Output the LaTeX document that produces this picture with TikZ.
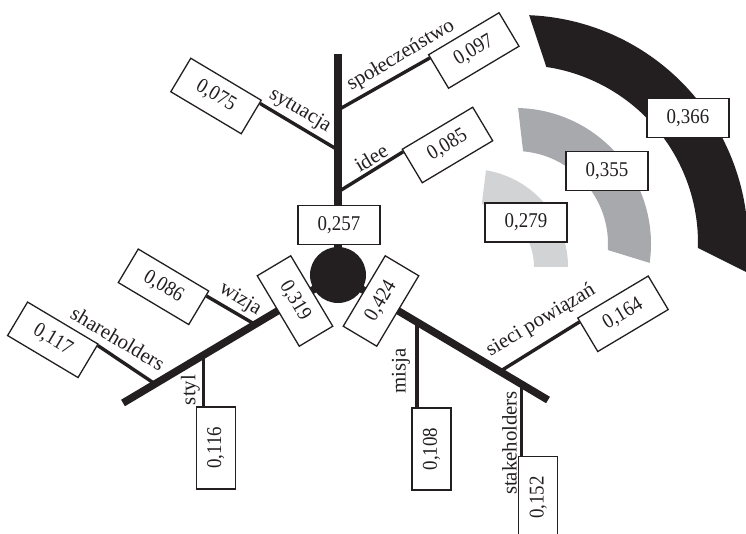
\documentclass[tikz,border=0pt]{standalone}
\usepackage{fontspec}
\setmainfont{Liberation Serif}
\newfontfamily\numfont[FakeStretch=0.9]{Liberation Serif}
\usetikzlibrary{calc}
\definecolor{darkc}{HTML}{231F20}
\definecolor{midc}{HTML}{A7A9AC}
\definecolor{lightc}{HTML}{D1D3D4}
\tikzset{
  valbox/.style={draw=darkc, line width=1.3pt, fill=white, minimum width=82pt, minimum height=39pt, inner sep=0pt, font=\numfont\fontsize{21}{24}\selectfont, text=darkc},
  lbl/.style={inner sep=0pt, font=\fontsize{20.8}{24}\selectfont, text=darkc},
  axisline/.style={draw=darkc, line width=7.5pt},
  branch/.style={draw=darkc, line width=3.4pt},
}
\begin{document}
\begin{tikzpicture}[x=1pt, y=-1pt]
\useasboundingbox (0,0) rectangle (746,534);
% arcs
\fill[darkc] plot[domain=87.7:-7.3, samples=80] ({520+228*cos(\x)},{243-228*sin(\x)})
  -- plot[domain=-1.6:81.5, samples=80] ({520+178*cos(\x)},{243-178*sin(\x)}) -- cycle;
\fill[midc] plot[domain=88.7:-8, samples=60] ({515+136*cos(\x)},{244-136*sin(\x)})
  -- plot[domain=-3.7:85, samples=60] ({515+93*cos(\x)},{244-93*sin(\x)}) -- cycle;
\fill[lightc] plot[domain=80.6:0, samples=50] ({470+98*cos(\x)},{267-98*sin(\x)})
  -- plot[domain=0:79.4, samples=50] ({470+64*cos(\x)},{267-64*sin(\x)}) -- cycle;
\node[valbox] (b366) at (688,118) {0,366};
\node[valbox] (b355) at (607,171) {0,355};
\node[valbox] (b279) at (526,222.5) {0,279};

% axis points
\coordinate (C) at (338,275);
\coordinate (T) at (338,54);
\coordinate (L) at (123,403);
\coordinate (R) at (548,400);
\coordinate (jspo) at (338,110);
\coordinate (jsyt) at (338,150);
\coordinate (jide) at (338,192);
\coordinate (jwiz) at (255,324.4);
\coordinate (jsha) at (155,383.9);
\coordinate (jsty) at (203.3,355.1);
\coordinate (jmis) at (417,322);
\coordinate (jsie) at (500,371.4);
\coordinate (jsta) at (521.7,384.3);

% value boxes of branches
\node[valbox, rotate=-30.8] (b075) at (216,96) {0,075};
\node[valbox, rotate=30.8] (b097) at (473.8,50.5) {0,097};
\node[valbox, rotate=30.8] (b085) at (447.5,145) {0,085};
\node[valbox, rotate=-30.8] (b086) at (163.5,286.8) {0,086};
\node[valbox, rotate=-30.8] (b117) at (52.8,339.8) {0,117};
\node[valbox, rotate=30.8] (b164) at (623,313.8) {0,164};
\node[valbox, rotate=90] (b116) at (215.8,448) {0,116};
\node[valbox, rotate=90] (b108) at (431.5,449) {0,108};
\node[valbox, rotate=90] (b152) at (538.3,497.7) {0,152};

% main axes
\draw[axisline] (T) -- (C);
\draw[axisline] (C) -- (L);
\draw[axisline] (C) -- (R);

% branches
\draw[branch] (jsyt) -- ($(b075.north east)!0.1!(b075.south east)$);
\draw[branch] (jspo) -- ($(b097.north west)!0.1!(b097.south west)$);
\draw[branch] (jide) -- ($(b085.north west)!0.08!(b085.south west)$);
\draw[branch] (jwiz) -- ($(b086.north east)!0.15!(b086.south east)$);
\draw[branch] (jsha) -- ($(b117.north east)!0.05!(b117.south east)$);
\draw[branch] (jsie) -- ($(b164.north west)!0.12!(b164.south west)$);
\draw[branch] (jsty) -- (jsty |- b116.east);
\draw[branch] (jmis) -- (jmis |- b108.east);
\draw[branch] (jsta) -- (jsta |- b152.east);

% center
\node[circle, fill=darkc, minimum size=56pt, inner sep=0pt] (hub) at (C) {};
\node[valbox] (b257) at (339,225) {0,257};
\node[valbox, rotate=-59.2] (b319) at (295,301) {0,319};
\node[valbox, rotate=59.2] (b424) at (381,301) {0,424};

% labels
\node[lbl, rotate=-30.8] (lsyt) at (300,110.5) {sytuacja};
\node[lbl, rotate=30.8] (lspo) at (401,55.5) {społeczeństwo};
\node[lbl, rotate=30.8] (lide) at (371,158) {idee};
\node[lbl, rotate=-30.8] (lwiz) at (240,299.5) {wizja};
\node[lbl, rotate=-30.8] (lsha) at (118,338.5) {shareholders};
\node[lbl, rotate=90] (lsty) at (190.5,390) {styl};
\node[lbl, rotate=90] (lmis) at (401,371) {misja};
\node[lbl, rotate=90] (lsta) at (509.5,443) {stakeholders};
\node[lbl, rotate=30.8] (lsie) at (541,320.5) {sieci powiązań};
\end{tikzpicture}
\end{document}
